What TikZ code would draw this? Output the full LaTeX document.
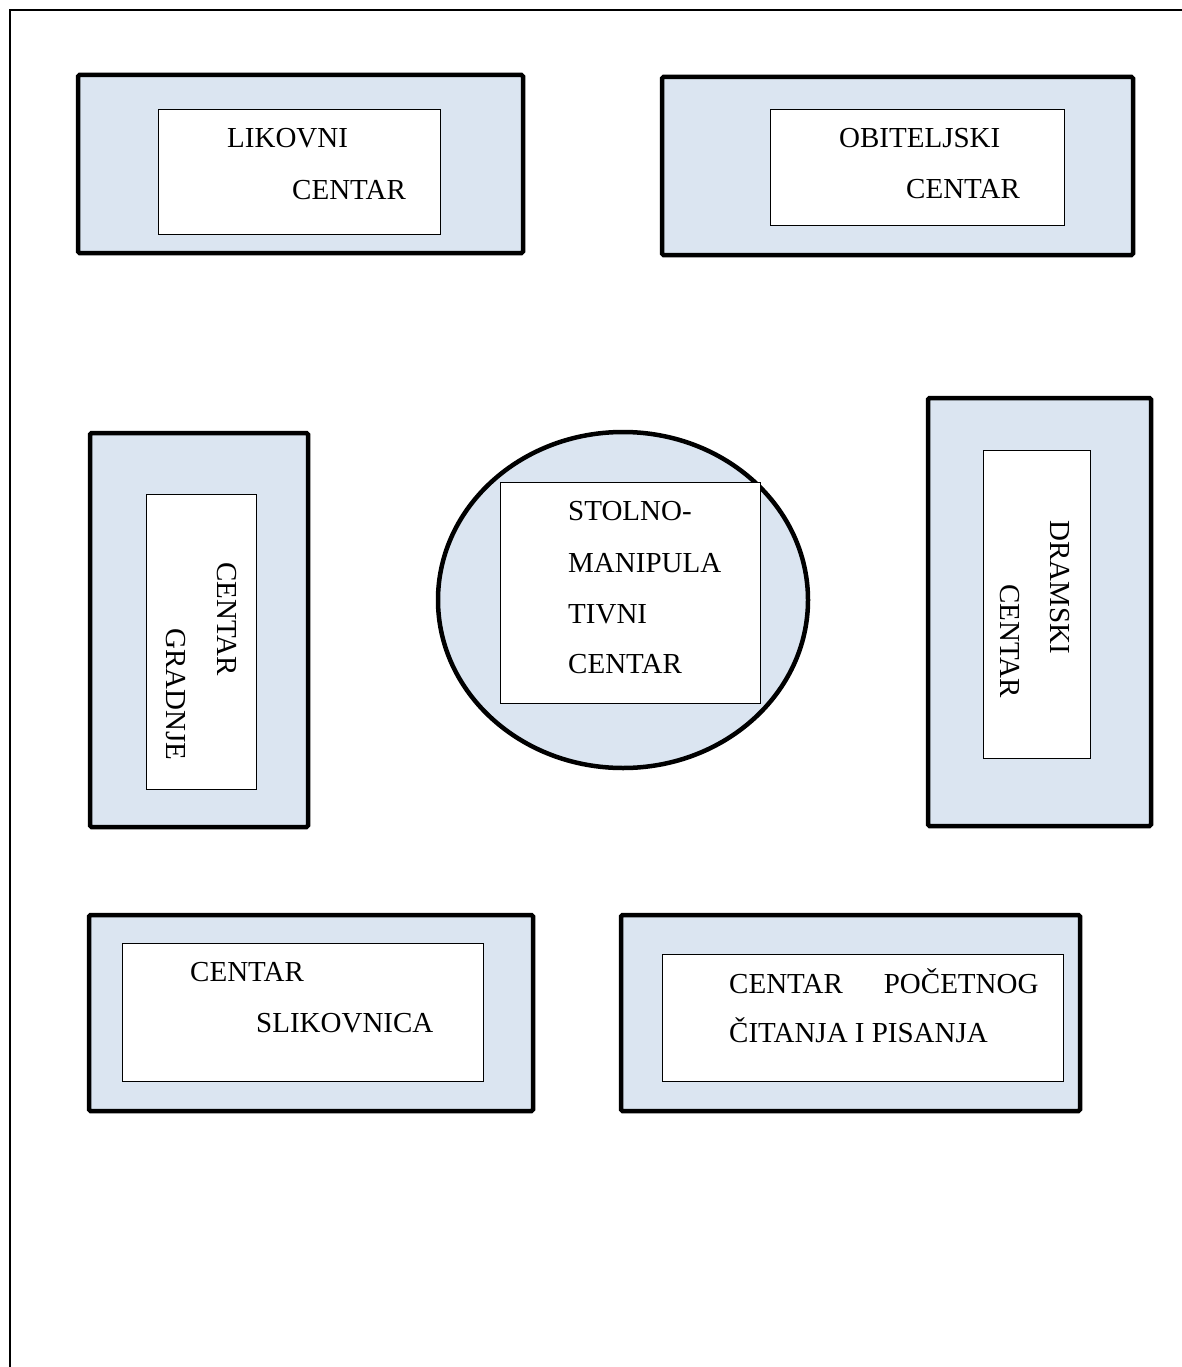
\documentclass[tikz,border=0pt]{standalone}
\usepackage{fontspec}
\setmainfont{Liberation Serif}
\usetikzlibrary{shapes.geometric}
\definecolor{boxblue}{HTML}{DBE5F1}

\begin{document}
\begin{tikzpicture}[
  x=1pt, y=-1pt,
  area/.style={draw, line width=4.5pt, fill=boxblue, rounded corners=1.5pt, inner sep=0pt},
  card/.style={draw, line width=1pt, fill=white, inner sep=0pt},
  word/.style={font=\fontsize{29pt}{35pt}\selectfont, inner sep=0pt, anchor=base west},
  vword/.style={word, rotate=-90}
]
  \useasboundingbox (0,0) rectangle (1182,1367);
  \draw[line width=2.2pt] (10,1367) -- (10,10) -- (1190,10);

  % top row
  \node[area, minimum width=445pt, minimum height=178pt] (likovni) at (300.5,164) {};
  \node[card, minimum width=282pt, minimum height=124pt] (likovniIn) at (299,172) {};
  \node[word] (likovni1) at (227,148) {LIKOVNI};
  \node[word] (likovni2) at (292,200) {CENTAR};

  \node[area, minimum width=471pt, minimum height=178pt] (obitelj) at (897.5,166) {};
  \node[card, minimum width=294pt, minimum height=115pt] (obiteljIn) at (917,167.5) {};
  \node[word] (obitelj1) at (839,148) {OBITELJSKI};
  \node[word] (obitelj2) at (906,198) {CENTAR};

  % middle row
  \node[area, minimum width=218pt, minimum height=394pt] (gradnja) at (199,630) {};
  \node[card, minimum width=110pt, minimum height=295pt] (gradnjaIn) at (201,641.5) {};
  \node[vword] (gradnja1) at (217,562) {CENTAR};
  \node[vword] (gradnja2) at (166,628) {GRADNJE};

  \node[area, ellipse, minimum width=370pt, minimum height=336pt] (stol) at (623,600) {};
  \node[card, minimum width=260pt, minimum height=221pt] (stolIn) at (630,592.5) {};
  \node[word] (stol1) at (568,520) {STOLNO-};
  \node[word] (stol2) at (568,572) {MANIPULA};
  \node[word] (stol3) at (568,623) {TIVNI};
  \node[word] (stol4) at (568,673) {CENTAR};

  \node[area, minimum width=223pt, minimum height=428pt] (drama) at (1039.5,612) {};
  \node[card, minimum width=107pt, minimum height=308pt] (dramaIn) at (1036.5,604) {};
  \node[vword] (drama1) at (1050,520) {DRAMSKI};
  \node[vword] (drama2) at (1000,584) {CENTAR};

  % bottom row
  \node[area, minimum width=444pt, minimum height=196pt] (slika) at (311,1013) {};
  \node[card, minimum width=361pt, minimum height=138pt] (slikaIn) at (302.5,1012) {};
  \node[word] (slika1) at (190,981) {CENTAR};
  \node[word] (slika2) at (256,1032) {SLIKOVNICA};

  \node[area, minimum width=459pt, minimum height=196pt] (citanje) at (850.5,1013) {};
  \node[card, minimum width=401pt, minimum height=127pt] (citanjeIn) at (862.5,1017.5) {};
  \node[word] (citanje1) at (729,993) {CENTAR\hspace{41pt}POČETNOG};
  \node[word] (citanje2) at (729,1042) {ČITANJA I PISANJA};
\end{tikzpicture}
\end{document}
